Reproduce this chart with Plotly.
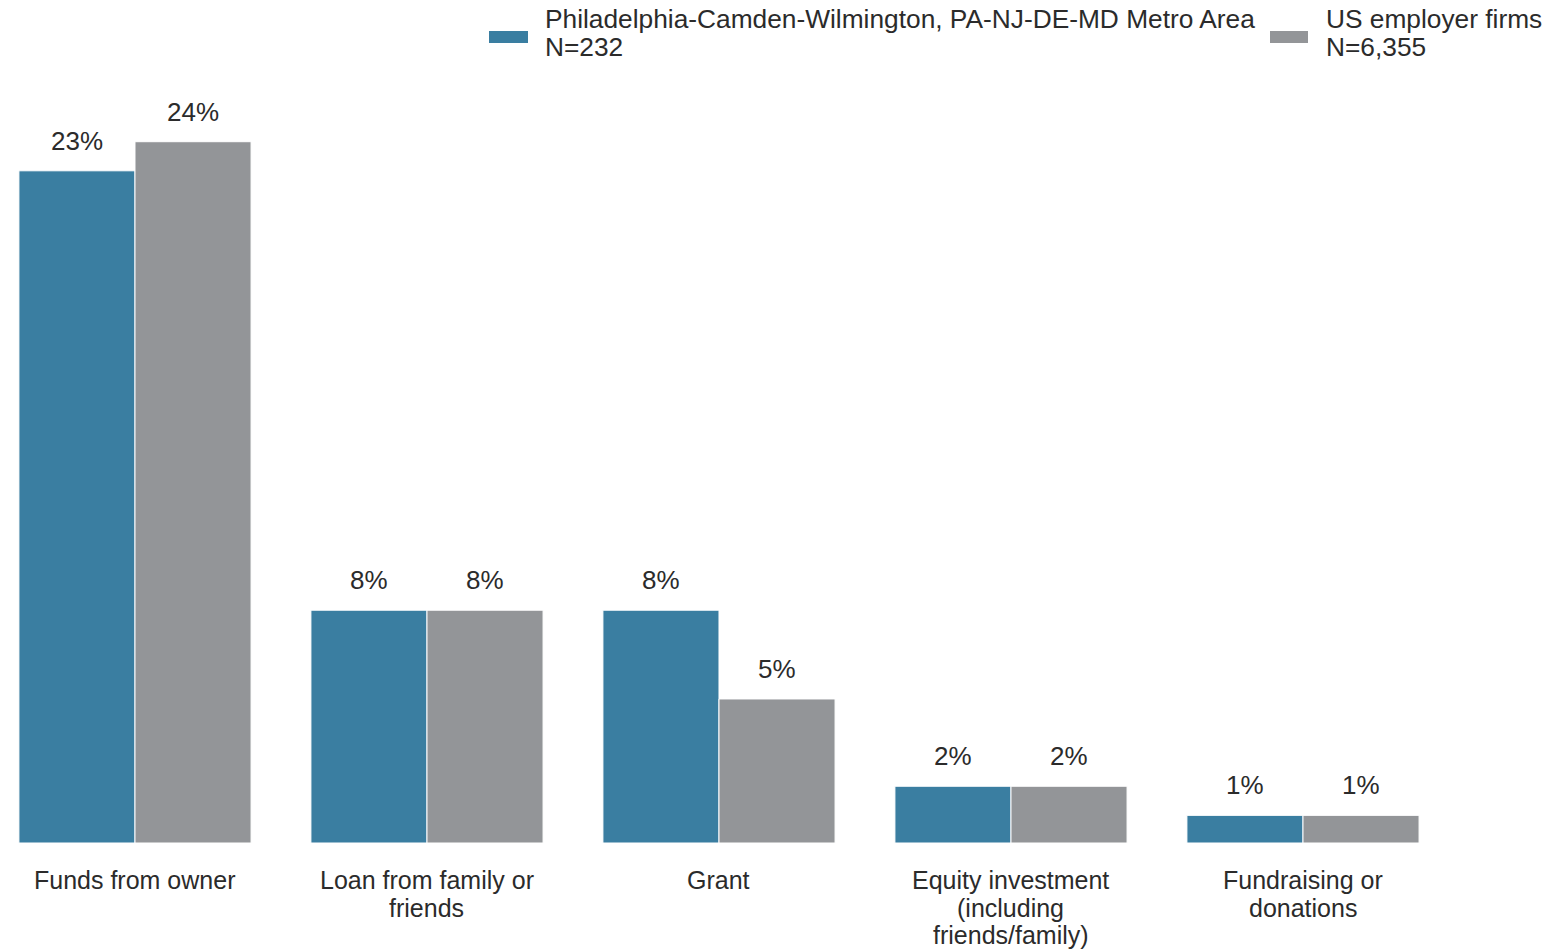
import plotly.graph_objects as go

categories = ["Funds from owner", "Loan from family or<br>friends", "Grant",
              "Equity investment<br>(including<br>friends/family)", "Fundraising or<br>donations"]
philly_values = [23.1, 8.0, 8.0, 1.95, 0.95]
us_values = [24.1, 8.0, 4.95, 1.95, 0.95]
series_names = ["Philadelphia-Camden-Wilmington, PA-NJ-DE-MD Metro Area<br>N=232",
                "US employer firms<br>N=6,355"]

BLUE = "#3a7ea1"
GRAY = "#939598"
TEXT = "#2b2b2b"
FONT = "Liberation Sans, Arial, sans-serif"

W, H = 1553, 950
PLOT_H = 843              # plot-area height (top margin 0)
xpos = list(range(len(categories)))

def labels(vals):
    return [f"{round(v):d}%" for v in vals]

fig = go.Figure()
for vals, col, name in [(philly_values, BLUE, series_names[0]), (us_values, GRAY, series_names[1])]:
    fig.add_trace(go.Bar(
        x=xpos, y=vals, name=name.replace("<br>", " "), showlegend=False,
        marker=dict(color=col, line=dict(color="white", width=1)),
        hoverinfo="y",
    ))

# value labels above each bar
for vals, shift in [(philly_values, -58), (us_values, 58)]:
    for xi, v, t in zip(xpos, vals, labels(vals)):
        fig.add_annotation(x=xi, y=v, text=t, showarrow=False,
                           xshift=shift, yshift=30, yanchor="middle",
                           font=dict(size=26, family=FONT, color=TEXT))

# category labels (one annotation per line for tight leading)
for xi, cat in zip(xpos, categories):
    for k, line in enumerate(cat.split("<br>")):
        fig.add_annotation(x=xi, y=0, text=line, showarrow=False,
                           yshift=-(37 + 27.5 * k), yanchor="middle",
                           font=dict(size=25, family=FONT, color=TEXT))

# legend (manual: wide swatches, tight leading)
legend_items = [  # swatch x0, x1, text x (px)
    (489, 528, 543, BLUE, series_names[0]),
    (1270, 1308, 1324, GRAY, series_names[1]),
]
def px_x(p):
    return p / W
def px_y(p):
    return 1 - p / PLOT_H
for x0, x1, tx, col, name in legend_items:
    fig.add_shape(type="rect", xref="paper", yref="paper",
                  x0=px_x(x0), x1=px_x(x1), y0=px_y(43), y1=px_y(31),
                  fillcolor=col, line=dict(width=0))
    for k, line in enumerate(name.split("<br>")):
        fig.add_annotation(xref="paper", yref="paper", x=px_x(tx), y=px_y(19 + 28 * k),
                           text=line, showarrow=False, xanchor="left", yanchor="middle",
                           font=dict(size=26.3, family=FONT, color=TEXT))

fig.update_layout(
    width=W, height=H,
    paper_bgcolor="white", plot_bgcolor="white",
    font=dict(family=FONT, size=24, color=TEXT),
    barmode="group", bargap=0.205, bargroupgap=0.0,
    margin=dict(l=0, r=0, t=0, b=H - PLOT_H, autoexpand=False),
    showlegend=False,
    xaxis=dict(range=[-0.4623, 4.8562], showticklabels=False, automargin=False,
               showgrid=False, zeroline=False, showline=False, ticks=""),
    yaxis=dict(range=[0, 28.97], visible=False, showgrid=False, zeroline=False),
)

fig.write_html("out.html", config={"displayModeBar": False},
               post_script="document.body.style.margin='0';")
